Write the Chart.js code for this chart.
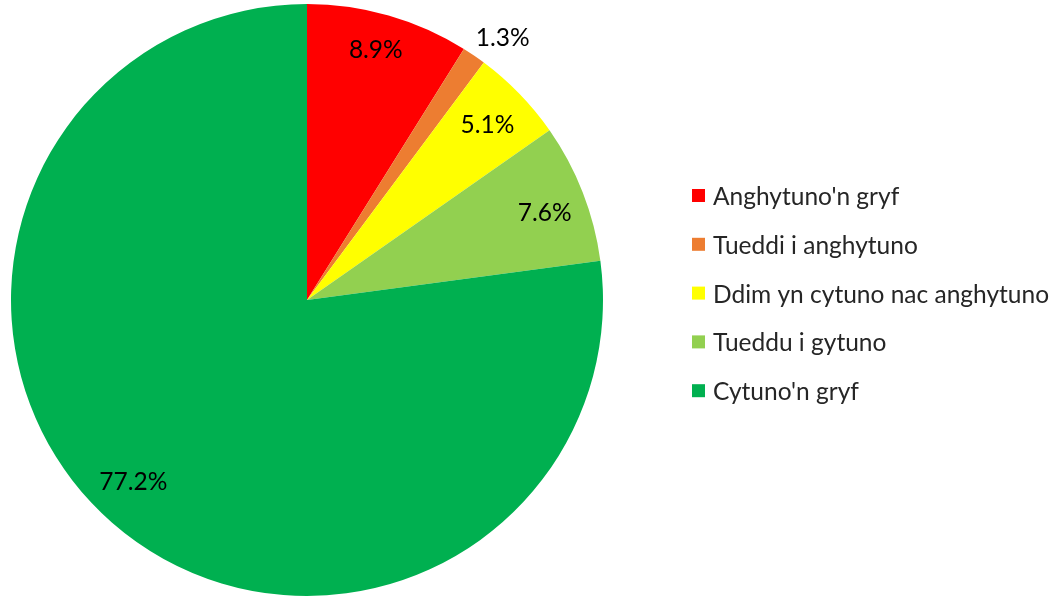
<!DOCTYPE html>
<html>
<head>
<meta charset="utf-8">
<script src="https://cdn.jsdelivr.net/npm/chart.js@4"></script>
<style>
  html, body { margin: 0; padding: 0; background: #fff; }
  #wrap { width: 1056px; height: 597px; }
</style>
</head>
<body>
<div id="wrap"><canvas id="pie_chart"></canvas></div>
<script>
var labels = ["Anghytuno'n gryf", "Tueddi i anghytuno", "Ddim yn cytuno nac anghytuno", "Tueddu i gytuno", "Cytuno'n gryf"];
var values = [8.9, 1.3, 5.1, 7.6, 77.2];
var value_labels = ["8.9%", "1.3%", "5.1%", "7.6%", "77.2%"];
var colors = ["#FF0000", "#ED7D31", "#FFFF00", "#92D050", "#00B050"];
var label_radius = [0.875, 1.105, 0.85, 0.855, 0.85];
var label_shift = [-0.6, 2.4, 0, 1.2, 2.5]; // degrees, to match where the original put them

var font_family = "Lato, 'Open Sans', sans-serif";

// percentage labels, placed from each arc's own geometry
var sliceLabels = {
    id: 'sliceLabels',
    afterDatasetsDraw: function(chart) {
        var ctx = chart.ctx;
        var meta = chart.getDatasetMeta(0);
        ctx.save();
        ctx.font = '24.5px ' + font_family;
        ctx.fillStyle = '#000';
        ctx.textAlign = 'center';
        ctx.textBaseline = 'middle';
        meta.data.forEach(function(arc, i) {
            var mid = (arc.startAngle + arc.endAngle) / 2 + label_shift[i] * Math.PI / 180;
            var r = arc.outerRadius * label_radius[i];
            ctx.fillText(value_labels[i], arc.x + Math.cos(mid) * r, arc.y + Math.sin(mid) * r);
        });
        ctx.restore();
    }
};

// legend on the right, like the original
var sideLegend = {
    id: 'sideLegend',
    afterDraw: function(chart) {
        var ctx = chart.ctx;
        var x = 692, y = 196, step = 48.8;
        ctx.save();
        ctx.font = '24.5px ' + font_family;
        ctx.textAlign = 'left';
        ctx.textBaseline = 'middle';
        for (var i = 0; i < labels.length; i++) {
            var cy = y + i * step;
            ctx.fillStyle = colors[i];
            ctx.fillRect(x, cy - 7, 13, 13);
            ctx.fillStyle = '#262626';
            ctx.fillText(labels[i], x + 21, cy + 1);
        }
        ctx.restore();
    }
};

var chart_canvas = document.getElementById('pie_chart').getContext('2d');
var chart_object = new Chart(chart_canvas, {
    type: 'pie',
    data: {
        labels: labels,
        datasets: [{
            data: values,
            backgroundColor: colors,
            borderWidth: 0
        }]
    },
    options: {
        responsive: true,
        maintainAspectRatio: false,
        animation: false,
        layout: { padding: { left: 11, right: 453, top: 4, bottom: 1 } },
        plugins: {
            legend: { display: false },
            tooltip: { enabled: false }
        }
    },
    plugins: [sliceLabels, sideLegend]
});
</script>
</body>
</html>
